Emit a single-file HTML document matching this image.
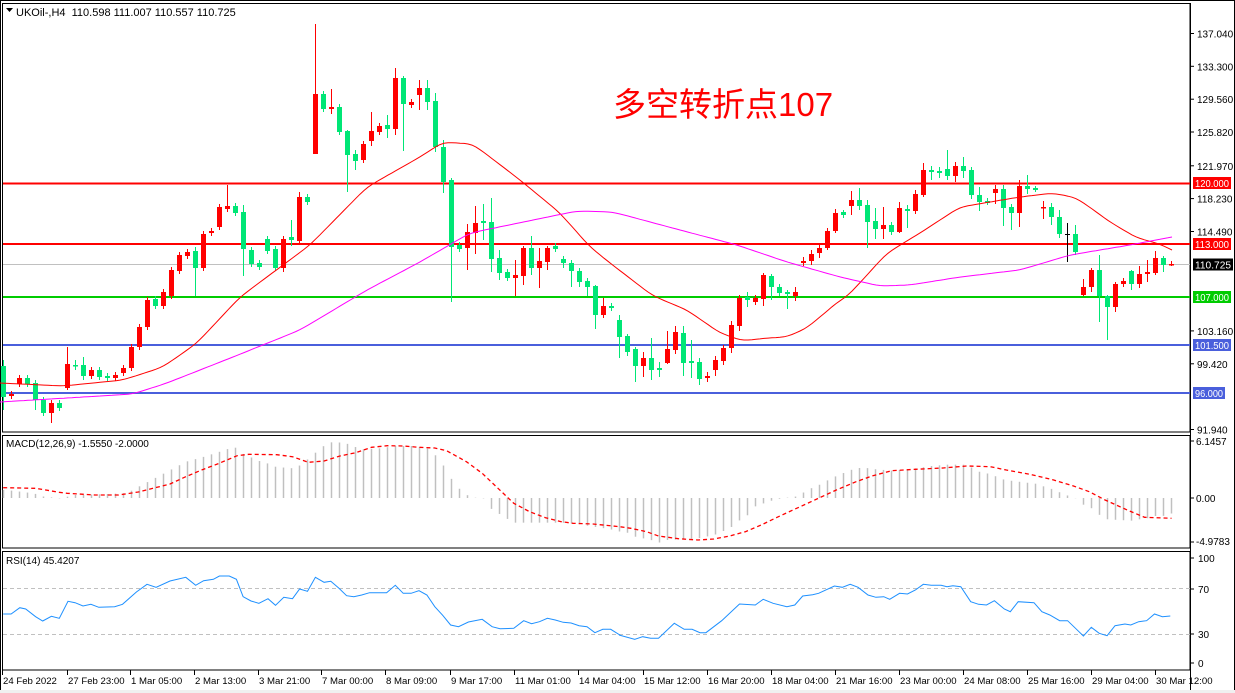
<!DOCTYPE html>
<html><head><meta charset="utf-8"><style>
html,body{margin:0;padding:0;background:#fff;width:1235px;height:693px;overflow:hidden}
svg{display:block;font-family:"Liberation Sans",Arial,sans-serif}
</style></head><body>
<svg id="s" width="1235" height="693" xmlns="http://www.w3.org/2000/svg"></svg>
<script>
var S=document.getElementById('s'),h='';
function L(x1,y1,x2,y2,c,w,extra){h+='<line x1="'+x1+'" y1="'+y1+'" x2="'+x2+'" y2="'+y2+'" stroke="'+c+'" stroke-width="'+(w||1)+'" '+(extra||'')+'/>';}
function R(x,y,w,hh,f,extra){h+='<rect x="'+x+'" y="'+y+'" width="'+w+'" height="'+hh+'" fill="'+f+'" '+(extra||'')+'/>';}
function T(x,y,t,sz,c,extra){h+='<text x="'+x+'" y="'+y+'" font-size="'+sz+'" fill="'+c+'" '+(extra||'')+'>'+t+'</text>';}
function P(pts,c,w,extra){h+='<polyline fill="none" stroke="'+c+'" stroke-width="'+(w||1)+'" points="'+pts.map(function(p){return p[0].toFixed(1)+','+p[1].toFixed(1)}).join(' ')+'" '+(extra||'')+'/>';}
function interp(pts,x){if(x<=pts[0][0])return pts[0][1];for(var i=1;i<pts.length;i++){if(x<=pts[i][0]){var a=pts[i-1],b=pts[i];return a[1]+(b[1]-a[1])*(x-a[0])/(b[0]-a[0]);}}return pts[pts.length-1][1];}
function smooth(pts){var o=[];for(var x=pts[0][0];x<=pts[pts.length-1][0];x+=4){o.push([x,interp(pts,x)]);}for(var k=0;k<3;k++){for(var i=1;i<o.length-1;i++)o[i][1]=(o[i-1][1]+2*o[i][1]+o[i+1][1])/4;}return o;}
R(0.5,0.5,1234,692,'none','stroke="#000"');
R(2.5,3.5,1187.5,428.5,'none','stroke="#000"');
R(2.5,435.5,1187.5,112.5,'none','stroke="#000"');
R(2.5,551.5,1187.5,118.5,'none','stroke="#000"');
L(3,264.5,1190,264.5,'#c0c0c0',1);
L(3,183.5,1190,183.5,'#ff0000',2);
L(3,244,1190,244,'#ff0000',2);
L(3,297,1190,297,'#00cc00',2);
L(3,345,1190,345,'#4a5fdc',2);
L(3,393,1190,393,'#4a5fdc',2);
var maR=[[0,383],[63,386],[123,380],[163,367],[197,343],[240,297],[310,245],[367,187],[420,157],[443,142],[473,144],[520,180],[560,213],[590,247],[610,263],[653,296],[687,310],[720,333],[743,341],[767,338],[787,337],[807,328],[840,300],[847,297],[887,253],[920,233],[960,207],[1020,197],[1053,193],[1077,198],[1110,222],[1137,238],[1160,244],[1172,250]];
var maM=[[0,402],[133,394],[167,383],[233,357],[300,330],[367,290],[420,262],[470,233],[577,211],[613,212],[680,230],[737,245],[787,262],[840,277],[880,286],[910,285],[960,277],[1020,270],[1070,255],[1130,245],[1172,237]];
var d="366,397,g,360,410;394,396,r;378,384,r;378,384,g;383,400,g,380,410;400,413,g;403,413,r,400,423;403,408,g;364,388,r,347,390;365,366,g,360,370;365,376,g,357,380;370,376,r;370,377,g;376,378,g;375,378,r;368,373,r;347,368,r;327,347,r;300,327,r;299,306,g;292,306,r;270,296,r;255,271,r;252,256,r;251,268,g,247,296;234,268,r;231,233,r;207,227,r;206,209,r,185,212;206,213,g;212,249,g,205,276;250,264,g;263,267,g;239,251,g;249,268,g;239,268,r,236,272;237,240,g,220,246;197,241,r,192,243;197,202,g;94,154,r,24,154;94,109,g;107,109,r,89,114;107,132,g;131,155,g,130,192;154,161,g,150,170;144,160,r;131,141,r,112,146;126,132,r;125,129,g,115,138;78,129,r,68,135;78,104,g,76,151;102,105,r;88,95,r,80,110;88,102,g,80,110;101,147,g,93,152;147,182,g,140,193;180,247,g,178,302;245,249,g;232,248,r,224,270;223,233,r,206,254;221,223,g,204,240;222,259,g,198,272;258,273,g,250,280;272,278,g;275,278,r,260,296;248,276,r,246,285;248,268,g,236,275;261,268,r,248,288;248,262,r,246,270;246,249,g;259,263,g,256,268;263,271,g,260,287;271,282,g,268,287;281,287,g,278,296;286,315,g,285,329;306,315,r,298,318;306,308,g;320,337,g,315,358;336,352,g,334,356;349,366,g,347,382;358,366,r,352,377;358,370,g,338,380;368,370,g,362,377;349,363,r,331,364;332,350,r,326,354;333,363,g,326,376;361,363,g,340,378;362,379,g,358,385;376,378,r,372,382;360,370,r,356,376;348,361,r,345,365;325,348,r,321,353;298,326,r,295,331;297,300,g,292,307;298,302,r;275,299,r,273,306;276,287,g,274,300;287,293,g;292,294,g,290,309;292,296,r,287,301;261,263,r,257,266;254,261,r,250,265;248,253,r,244,258;231,248,r,228,250;213,231,r,209,233;212,215,g,210,218;200,206,r,191,215;200,206,g,188,210;205,222,g,200,248;221,229,g,208,239;225,229,r,207,239;225,232,g,222,235;208,232,r,202,233;209,211,g,205,228;194,211,r,190,214;170,195,r,163,197;170,172,g,166,180;171,173,g,167,178;169,176,g,150,180;166,176,r,162,182;166,171,g,157,178;170,195,g,167,199;195,202,g,187,211;201,203,g,198,205;189,193,r,185,204;189,208,g,185,226;207,213,g,204,230;186,213,r,180,227;186,189,g,175,194;188,190,g,186,192;207,208,r,201,219;207,217,g,203,225;217,234,g,210,238;234,234,k,223,262;234,252,g,225,255;287,295,r,279,296;270,287,r,268,292;270,296,g,255,322;296,307,g,295,340;284,307,r,282,312;281,284,r;271,284,g,270,290;274,284,r,266,288;272,274,r,260,282;258,273,r,251,275;258,265,g,256,272;264,265,r,261,266".split(';');
var ccol={g:'#00e676',r:'#ff0000',k:'#000'};
d.forEach(function(s,i){var a=s.split(','),x=3+8*i,t=+a[0],b=+a[1],c=ccol[a[2]];var hi=a[3]?+a[3]:t-3,lo=a[4]?+a[4]:b+3;
L(x+0.5,hi,x+0.5,lo,c,1);if(a[2]=='k'){L(x-2,t+0.5,x+3,t+0.5,c,1);}else R(x-2,t,5,Math.max(b-t,1.5),c);});
P(smooth(maR),'#ff0000',1);P(smooth(maM),'#ff00ff',1);
h+='<path d="M6,8 L13,8 L9.5,12 Z" fill="#000"/>';
T(16,16,'UKOil-,H4  110.598 111.007 110.557 110.725',11,'#000','xml:space="preserve"');
T(613,116,'多空转折点107',33,'#ff0000','font-family="Liberation Sans,Noto Sans CJK SC,sans-serif"');
L(1190.5,3,1190.5,693,'#000',1);
[[137.040,33.5],[133.300,66.3],[129.560,99.2],[125.820,132],[121.970,165.8],[118.230,198.6],[114.490,231.5],[103.160,330.9],[99.420,363.8],[91.940,429.5]].forEach(function(v){L(1190,v[1],1194,v[1],'#000',1);T(1197,v[1]+4,v[0].toFixed(3),10,'#000');});
function box(y,t,bg,w){R(1193,y-6,w||38,12,bg);T(1195,y+4,t,10,'#fff','textLength="'+((w||38)-4)+'" lengthAdjust="spacingAndGlyphs"');}
box(183,'120.000','#ff0000');box(244,'113.000','#ff0000');box(264.5,'110.725','#000',40);box(297,'107.000','#00cc00');box(345,'101.500','#4a5fdc');box(393,'96.000','#4a5fdc',32);
T(6,447,'MACD(12,26,9) -1.5550 -2.0000',10,'#000');
var c4=function(a){return a.map(function(p){return[p[0]/2.53,430+p[1]/3]})};
var c5=function(a){return a.map(function(p){return[615+p[0]/2.53,430+p[1]/3]})};
var hist=c4([[8,180],[30,182],[70,188],[90,192],[110,200],[150,205],[170,200],[190,195],[250,193],[310,190],[330,183],[350,170],[390,145],[430,120],[470,95],[510,82],[555,65],[575,57],[595,53],[615,72],[655,93],[675,100],[695,110],[735,115],[755,108],[775,90],[795,70],[815,50],[835,37],[855,37],[880,42],[900,52],[920,58],[960,55],[1000,48],[1040,48],[1080,55],[1100,75],[1120,105],[1140,145],[1160,175],[1180,195],[1200,203],[1222,205],[1240,235],[1260,250],[1280,265],[1300,278],[1420,278],[1460,282],[1500,290],[1540,297],[1568,305]]).concat(c5([[10,290],[30,308],[50,320],[90,330],[110,338],[130,330],[170,328],[210,325],[250,315],[270,305],[295,290],[315,270],[335,255],[355,228],[375,220],[395,212],[415,206],[455,200],[475,188],[495,175],[515,165],[535,152],[555,140],[575,130],[595,120],[615,114],[635,114],[660,118],[700,122],[720,120],[760,115],[800,108],[840,104],[880,104],[900,112],[920,125],[940,130],[960,138],[980,148],[1000,152],[1040,158],[1060,160],[1080,168],[1100,175],[1120,185],[1140,195],[1165,205],[1185,225],[1205,235],[1225,255],[1245,268],[1305,272],[1325,268],[1345,265],[1365,258],[1385,258],[1408,250]]));
for(var i=0;i<147;i++){var x=3+8*i,y=interp(hist,x);L(x+0.5,498,x+0.5,y,'#c0c0c0',1.5);}
var sig=c4([[8,173],[90,175],[150,187],[170,190],[240,195],[300,195],[350,186],[390,174],[430,162],[470,140],[510,120],[550,102],[600,77],[630,73],[700,74],[740,80],[780,97],[820,93],[860,78],[900,68],[940,52],[980,47],[1020,48],[1060,52],[1100,54],[1130,62],[1180,95],[1220,130],[1260,175],[1300,220],[1340,245],[1380,263],[1420,275],[1450,280],[1500,282],[1568,290]]).concat(c5([[40,295],[80,305],[110,318],[160,326],[210,330],[250,327],[290,318],[330,305],[370,285],[410,262],[450,240],[500,213],[560,180],[610,155],[650,138],[700,122],[760,118],[830,114],[890,108],[950,110],[990,120],[1050,133],[1110,150],[1160,168],[1200,185],[1240,210],[1300,242],[1340,262],[1408,265]]));
P(sig,'#ff0000',1.3,'stroke-dasharray="4,3"');
L(1190,441,1194,441,'#000');T(1196,445,'6.1457',10,'#000');
L(1190,498,1194,498,'#000');T(1196,502,'0.00',10,'#000');
L(1190,542,1194,542,'#000');T(1196,545,'-4.9783',10,'#000');
T(6,564,'RSI(14) 45.4207',10,'#000');
L(3,588.5,1190,588.5,'#c0c0c0',1,'stroke-dasharray="4,3"');
L(3,634.5,1190,634.5,'#c0c0c0',1,'stroke-dasharray="4,3"');
var rsi=c4([[8,552],[28,552],[50,533],[65,537],[90,560],[108,573],[130,559],[150,565],[172,514],[190,518],[210,528],[230,523],[250,532],[290,530],[310,523],[345,486],[372,463],[395,472],[430,453],[470,442],[495,466],[515,452],[540,448],[555,438],[580,438],[598,448],[615,500],[635,513],[655,520],[678,506],[697,526],[718,502],[740,506],[758,477],[778,484],[798,442],[820,457],[837,454],[857,474],[877,497],[895,500],[915,495],[935,488],[978,488],[1000,466],[1020,490],[1040,490],[1060,482],[1080,495],[1100,530],[1120,556],[1140,585],[1160,590],[1185,576],[1220,568],[1245,590],[1265,596],[1300,595],[1325,572],[1345,581],[1365,575],[1385,565],[1405,570],[1425,577],[1445,579],[1465,587],[1485,590],[1505,608],[1525,598],[1545,598],[1568,615]]).concat(c5([[10,615],[50,628],[70,620],[90,625],[110,625],[150,580],[175,598],[195,598],[215,608],[230,608],[270,572],[315,522],[355,525],[375,508],[400,520],[435,530],[455,525],[475,498],[500,494],[515,490],[555,468],[575,472],[595,463],[615,472],[640,495],[660,502],[680,500],[695,508],[720,490],[740,492],[760,480],[780,463],[800,466],[825,466],[840,470],[855,467],[875,470],[900,515],[920,523],[940,525],[960,512],[985,537],[1000,545],[1020,515],[1060,518],[1080,545],[1100,555],[1125,572],[1145,572],[1165,595],[1185,618],[1205,592],[1225,610],[1245,617],[1265,587],[1290,582],[1305,585],[1325,575],[1345,572],[1365,552],[1385,560],[1405,558]]));
P(rsi,'#1e90ff',1);
[[100,558],[70,589],[30,634],[0,663]].forEach(function(v){L(1190,v[1],1194,v[1],'#000');T(1198,v[1]+4,v[0],10,'#000');});
var tl=['24 Feb 2022','27 Feb 23:00','1 Mar 05:00','2 Mar 13:00','3 Mar 21:00','7 Mar 00:00','8 Mar 09:00','9 Mar 17:00','11 Mar 01:00','14 Mar 04:00','15 Mar 12:00','16 Mar 20:00','18 Mar 04:00','21 Mar 16:00','23 Mar 00:00','24 Mar 08:00','25 Mar 16:00','29 Mar 04:00','30 Mar 12:00'];
var tx=[2,67,130,194,258,321,385,450,514,578,643,707,771,835,899,963,1027,1091,1155];
tl.forEach(function(t,i){L(tx[i]+0.5,670,tx[i]+0.5,675,'#000');T(tx[i]+1,684,t,9.6,'#000');});
R(0,690,1235,3,'#f0f0f0');
S.innerHTML=h;
</script>
</body></html>
